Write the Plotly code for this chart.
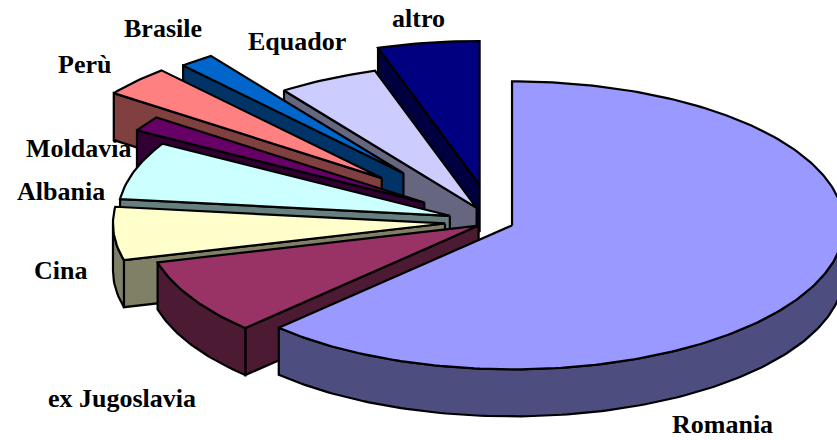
import numpy as np
import plotly.graph_objects as go

# Immigrant residents by country of origin (percent shares)
categories = ["Romania", "ex Jugoslavia", "Cina", "Albania", "Moldavia", "Perù", "Brasile", "Equador", "altro"]
shares = [62.4, 8.5, 5.95, 6.5, 1.7, 3.4, 1.7, 4.9, 4.95]
explode = [0.062, 0.05, 0.145, 0.137, 0.247, 0.453, 0.433, 0.11, 0.26]
top_colors = ["#9999FF", "#993366", "#FFFFCC", "#CCFFFF", "#660066", "#FF8080", "#0066CC", "#CCCCFF", "#000080"]
side_colors = ["#4D4D80", "#4D1A33", "#808066", "#668080", "#330033", "#804040", "#003366", "#666680", "#000040"]

# Where each category label sits on the canvas
label_x = [722, 122, 60, 61, 78, 84, 163, 297, 418]
label_y = [424.5, 398, 270, 191, 148, 64, 28, 41, 18]

# Projection of the tilted pie onto the page
CX, CY = 493, 222
RX, RY = 332, 144
DEPTH = 47
OUTLINE = dict(color="black", width=2.2)
paint_order = [8, 7, 6, 5, 4, 3, 2, 1, 0]  # back to front

cum = np.cumsum([0] + shares) / sum(shares) * 2 * np.pi


def rim(t0, t1):
    n = max(2, int(np.degrees(t1 - t0)) + 1)
    return np.linspace(t0, t1, n)


def polygon(xs, ys, color, name):
    return go.Scatter(x=list(xs) + [xs[0]], y=list(ys) + [ys[0]], mode="lines", fill="toself",
                      fillcolor=color, line=OUTLINE, hoverinfo="skip", name=name, showlegend=False)


fig = go.Figure()
for i in paint_order:
    t0, t1 = cum[i], cum[i + 1]
    mid = (t0 + t1) / 2
    ax = CX + explode[i] * RX * np.sin(mid)
    ay = CY - explode[i] * RY * np.cos(mid)

    # radial cut face, only seen when it turns towards the viewer
    if np.sin(t0) < 0:
        ex, ey = ax + RX * np.sin(t0), ay - RY * np.cos(t0)
        fig.add_trace(polygon([ax, ex, ex, ax], [ay, ey, ey + DEPTH, ay + DEPTH], side_colors[i], categories[i]))

    # outer wall along the front half of the ellipse
    w0, w1 = max(t0, np.pi / 2), min(t1, 3 * np.pi / 2)
    if w1 > w0:
        w = rim(w0, w1)
        wx = ax + RX * np.sin(w)
        wy = ay - RY * np.cos(w)
        fig.add_trace(polygon(np.r_[wx, wx[::-1]], np.r_[wy, wy[::-1] + DEPTH], side_colors[i], categories[i]))

    # top face
    t = rim(t0, t1)
    fig.add_trace(polygon(np.r_[ax, ax + RX * np.sin(t)], np.r_[ay, ay - RY * np.cos(t)], top_colors[i], categories[i]))

for name, lx, ly in zip(categories, label_x, label_y):
    fig.add_annotation(x=lx, y=ly, text=f"<b>{name}</b>", showarrow=False,
                       font=dict(family="Liberation Serif", size=26, color="black"))

fig.update_layout(
    width=837, height=440, margin=dict(l=0, r=0, t=0, b=0),
    paper_bgcolor="white", plot_bgcolor="white", showlegend=False,
    xaxis=dict(range=[0, 837], visible=False, fixedrange=True),
    yaxis=dict(range=[440, 0], visible=False, fixedrange=True),
)
fig.write_html("out.html", config={"displayModeBar": False})
